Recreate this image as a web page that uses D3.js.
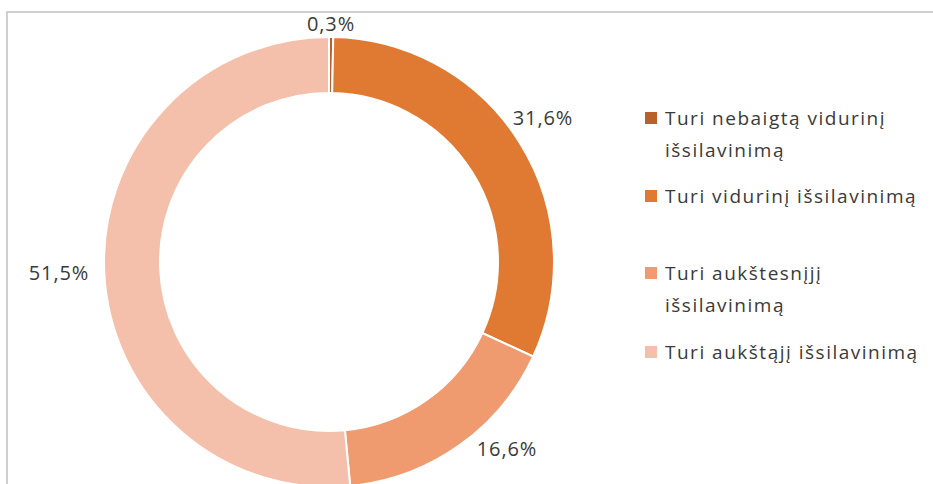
<!DOCTYPE html>
<html>
<head>
<meta charset="utf-8">
<script src="https://cdn.jsdelivr.net/npm/d3@7"></script>
<style>
  body { margin: 0; background: #fff; }
  svg { display: block; }
  text { font-family: "Open Sans", "DejaVu Sans", sans-serif; fill: #3a3a3a; }
</style>
</head>
<body>
<div class="viz"></div>
<script>
// data
const categories = [
  "Turi nebaigtą vidurinį išsilavinimą",
  "Turi vidurinį išsilavinimą",
  "Turi aukštesnįjį išsilavinimą",
  "Turi aukštąjį išsilavinimą"
];
const values = [0.3, 31.6, 16.6, 51.5];
const valueLabels = ["0,3%", "31,6%", "16,6%", "51,5%"];
// legend text split into lines as in the original
const legendLines = [
  ["Turi nebaigtą vidurinį", "išsilavinimą"],
  ["Turi vidurinį išsilavinimą"],
  ["Turi aukštesnįjį", "išsilavinimą"],
  ["Turi aukštąjį išsilavinimą"]
];
const colors = ["#b8612a", "#e07a33", "#f09a70", "#f5c0ab"];

const SVGwd = 933, SVGht = 484;
const cx = 329, cy = 262;
const outerR = 225, innerR = 169;

// label centres (Excel best-fit positions)
const labelPos = [[331, 31], [543, 125], [507, 456], [59, 280]];
// legend entry top lines
const legendY = [118, 196, 273, 352];

var canvas = d3.select(".viz")
    .append("svg")
    .attr("width", SVGwd)
    .attr("height", SVGht);

// chart frame (only top/left visible in screenshot)
canvas.append("rect")
    .attr("x", 7)
    .attr("y", 12)
    .attr("width", SVGwd + 20)
    .attr("height", SVGht + 20)
    .attr("fill", "none")
    .attr("stroke", "#c4c4c4")
    .attr("stroke-width", 1.6);

var pie = d3.pie().sort(null).value(d => d);
var arc = d3.arc().innerRadius(innerR).outerRadius(outerR);

var g = canvas.append("g").attr("transform", `translate(${cx}, ${cy})`);

g.selectAll("path")
    .data(pie(values))
    .join("path")
    .attr("d", arc)
    .attr("fill", (d, i) => colors[i])
    .attr("stroke", "#fff")
    .attr("stroke-width", 2);

canvas.selectAll("text.lbl")
    .data(valueLabels)
    .join("text")
    .attr("class", "lbl")
    .attr("x", (d, i) => labelPos[i][0])
    .attr("y", (d, i) => labelPos[i][1])
    .attr("text-anchor", "middle")
    .style("font-size", "20px")
    .style("letter-spacing", "0.9px")
    .text(d => d);

var legend = canvas.append("g");
categories.forEach(function (c, i) {
    legend.append("rect")
        .attr("x", 645)
        .attr("y", legendY[i] - 6)
        .attr("width", 12)
        .attr("height", 12)
        .attr("fill", colors[i]);
    legendLines[i].forEach(function (line, j) {
        legend.append("text")
            .attr("x", 665)
            .attr("y", legendY[i] + 7 + j * 32)
            .style("font-size", "19px")
            .style("letter-spacing", "1.5px")
            .text(line);
    });
});
</script>
</body>
</html>
